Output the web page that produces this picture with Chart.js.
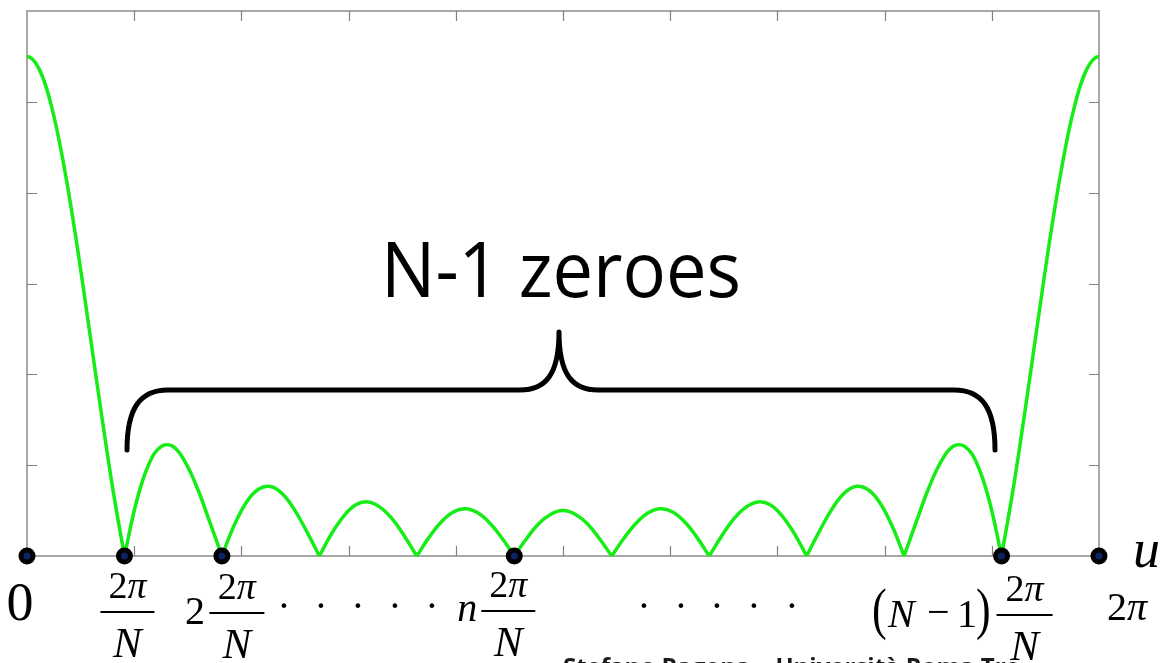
<!DOCTYPE html>
<html>
<head>
<meta charset="utf-8">
<script src="https://cdn.jsdelivr.net/npm/chart.js@4.4.1/dist/chart.umd.min.js"></script>
<style>
html,body{margin:0;padding:0;background:#fff;overflow:hidden}
#wrap{width:1176px;height:663px;position:relative}
</style>
</head>
<body>
<div id="wrap"><canvas id="c" width="1176" height="663"></canvas></div>
<script>
// ---- data ----
// |array factor| sampled evenly over u in [0, 2π] (89 samples, 8 per zero spacing)
const amplitude = [
  11, 10.72, 9.91, 8.64, 7.03, 5.20, 3.33, 1.55, 0,
  1.21, 2.02, 2.41, 2.41, 2.06, 1.48, 0.75, 0,
  0.67, 1.18, 1.47, 1.53, 1.36, 1.00, 0.52, 0,
  0.49, 0.88, 1.13, 1.19, 1.07, 0.81, 0.43, 0,
  0.41, 0.75, 0.97, 1.04, 0.95, 0.72, 0.39, 0,
  0.38, 0.71, 0.92, 1.00, 0.92, 0.71, 0.38, 0,
  0.39, 0.72, 0.95, 1.04, 0.97, 0.75, 0.41, 0,
  0.43, 0.81, 1.07, 1.19, 1.13, 0.88, 0.49, 0,
  0.52, 1.00, 1.36, 1.53, 1.47, 1.18, 0.67, 0,
  0.75, 1.48, 2.06, 2.41, 2.41, 2.02, 1.21, 0,
  1.55, 3.33, 5.20, 7.03, 8.64, 9.91, 10.72, 11
];
const uMaxOverPi = 2;                       // u axis runs 0 .. 2π (in units of π)
const markerU = [0, 0.1818, 0.3636, 0.9091, 1.8182, 2];   // marked points (units of π)
const xTicks = [0.2, 0.4, 0.6, 0.8, 1.0, 1.2, 1.4, 1.6, 1.8];
const yTicks = [2, 4, 6, 8, 10];
const yMax = 12;
const braceText = 'N-1 zeroes';
const footerText = 'Stefano Ragona    Università Roma Tre';

// sample points, then split into lobes at the zeros (each lobe keeps its zero end points)
const step = uMaxOverPi / (amplitude.length - 1);
const curvePoints = amplitude.map((y, i) => ({ x: i * step, y }));
const lobes = [];
let cur = [];
curvePoints.forEach((p, i) => {
  cur.push(p);
  if (p.y === 0 && i > 0) { lobes.push(cur); cur = [p]; }
});
if (cur.length > 1) lobes.push(cur);
// the curve is periodic: continue the main lobe one sample past each edge (clipped away)
lobes[0].unshift({ x: -step, y: amplitude[amplitude.length - 2] });
lobes[lobes.length - 1].push({ x: uMaxOverPi + step, y: amplitude[1] });

const markerPoints = markerU.map(x => ({ x, y: 0 }));

const SERIF = '"Liberation Serif", "DejaVu Serif", serif';
const GREEN = '#16ec16';

const framePlugin = {
  id: 'frame',
  beforeDatasetsDraw(chart) {
    const { ctx, chartArea: a, scales } = chart;
    ctx.save();
    ctx.strokeStyle = '#a8a8a8';
    ctx.lineWidth = 2;
    ctx.strokeRect(a.left, a.top, a.right - a.left, a.bottom - a.top);
    ctx.strokeStyle = '#808080';
    ctx.lineWidth = 1.2;
    ctx.beginPath();
    xTicks.forEach(v => {
      const px = Math.round(scales.x.getPixelForValue(v)) + 0.5;
      ctx.moveTo(px, a.bottom); ctx.lineTo(px, a.bottom - 10);
      ctx.moveTo(px, a.top); ctx.lineTo(px, a.top + 10);
    });
    yTicks.forEach(v => {
      const py = Math.round(scales.y.getPixelForValue(v)) + 0.5;
      ctx.moveTo(a.left, py); ctx.lineTo(a.left + 10, py);
      ctx.moveTo(a.right, py); ctx.lineTo(a.right - 10, py);
    });
    ctx.stroke();
    ctx.restore();
  }
};

function drawFrac(ctx, cx, barY, w) {
  ctx.textAlign = 'left';
  ctx.textBaseline = 'alphabetic';
  ctx.font = '38px ' + SERIF;
  const w2 = ctx.measureText('2').width;
  ctx.font = 'italic 38px ' + SERIF;
  const wp = ctx.measureText('π').width;
  const start = cx - (w2 + wp) / 2;
  ctx.font = '38px ' + SERIF;
  ctx.fillText('2', start, barY - 14);
  ctx.font = 'italic 38px ' + SERIF;
  ctx.fillText('π', start + w2, barY - 14);
  ctx.fillRect(cx - w / 2, barY - 1, w, 2);
  ctx.font = 'italic 43px ' + SERIF;
  ctx.textAlign = 'center';
  ctx.fillText('N', cx, barY + 45);
  ctx.textAlign = 'left';
}

function drawParen(ctx, ch, x, bottomY) {
  ctx.save();
  ctx.font = '44px ' + SERIF;
  ctx.translate(x, bottomY);
  ctx.scale(1, 1.3);
  ctx.textAlign = 'left';
  ctx.textBaseline = 'alphabetic';
  ctx.fillText(ch, 0, -9);
  ctx.restore();
}

const labelPlugin = {
  id: 'labels',
  afterDraw(chart) {
    const { ctx, scales } = chart;
    const X = v => scales.x.getPixelForValue(v);
    ctx.save();
    ctx.fillStyle = '#000';

    // brace
    ctx.strokeStyle = '#000';
    ctx.lineWidth = 5;
    ctx.lineCap = 'round';
    ctx.lineJoin = 'round';
    ctx.beginPath();
    ctx.moveTo(127, 450);
    ctx.bezierCurveTo(127, 408, 140, 390, 168, 390);
    ctx.lineTo(520, 390);
    ctx.bezierCurveTo(546, 390, 559, 374, 559, 332);
    ctx.bezierCurveTo(559, 374, 572, 390, 598, 390);
    ctx.lineTo(954, 390);
    ctx.bezierCurveTo(982, 390, 995, 408, 995, 450);
    ctx.stroke();

    // brace text
    ctx.font = '76px "Open Sans", "Noto Sans", sans-serif';
    ctx.textAlign = 'left';
    ctx.textBaseline = 'alphabetic';
    ctx.fillText(braceText, 381, 297, 360);

    // axis labels
    ctx.font = '54px ' + SERIF;
    ctx.textAlign = 'center';
    ctx.fillText('0', X(markerU[0]) - 7, 620);

    drawFrac(ctx, X(markerU[1]) + 3, 612, 54);

    ctx.font = '40px ' + SERIF;
    ctx.textAlign = 'right';
    ctx.fillText('2', X(markerU[2]) - 17, 624);
    drawFrac(ctx, X(markerU[2]) + 15, 613, 55);

    ctx.font = '40px ' + SERIF;
    ctx.textAlign = 'center';
    [284, 321, 358, 395, 432].forEach(x => ctx.fillText('·', x, 619));
    [644, 681, 717, 754, 792].forEach(x => ctx.fillText('·', x, 619));

    ctx.font = 'italic 40px ' + SERIF;
    ctx.textAlign = 'right';
    ctx.fillText('n', X(markerU[3]) - 37, 621);
    drawFrac(ctx, X(markerU[3]) - 6, 611, 54);

    // (N - 1)
    ctx.textAlign = 'left';
    drawParen(ctx, '(', 872, 640);
    ctx.font = 'italic 40px ' + SERIF;
    ctx.fillText('N', 888, 627);
    ctx.font = '40px ' + SERIF;
    ctx.fillText('−', 927, 625);
    ctx.fillText('1', 957, 627);
    drawParen(ctx, ')', 976, 640);
    drawFrac(ctx, X(markerU[4]) + 23, 615, 56);

    // 2π
    ctx.textAlign = 'left';
    ctx.font = '40px ' + SERIF;
    const x2 = X(markerU[5]) + 8;
    ctx.fillText('2', x2, 620);
    const w2 = ctx.measureText('2').width;
    ctx.font = 'italic 40px ' + SERIF;
    ctx.fillText('π', x2 + w2, 620);

    // u
    ctx.font = 'italic 54px ' + SERIF;
    ctx.fillText('u', 1133, 567);

    // footer (cut off at bottom)
    ctx.font = 'bold 24px "Open Sans", "Noto Sans", sans-serif';
    ctx.fillStyle = '#1a1a1a';
    ctx.fillText(footerText, 563, 675);
    ctx.restore();
  }
};

const datasets = [{
  type: 'scatter',
  data: markerPoints,
  pointRadius: 6,
  pointHoverRadius: 6,
  pointBorderWidth: 5,
  pointBorderColor: '#000',
  pointBackgroundColor: '#0c2465',
  showLine: false,
  clip: false,
  order: 0
}];
lobes.forEach(lobe => datasets.push({
  data: lobe,
  borderColor: GREEN,
  borderWidth: 3.5,
  pointRadius: 0,
  tension: 0.4,
  fill: false,
  clip: { left: 0, right: 0, top: 5, bottom: 5 },
  order: 1
}));

new Chart(document.getElementById('c'), {
  type: 'line',
  data: { datasets },
  options: {
    responsive: false,
    animation: false,
    layout: { padding: { left: 27, top: 5, right: 77, bottom: 107 } },
    scales: {
      x: { type: 'linear', min: 0, max: uMaxOverPi, display: false },
      y: { type: 'linear', min: 0, max: yMax, display: false }
    },
    plugins: { legend: { display: false }, tooltip: { enabled: false } }
  },
  plugins: [framePlugin, labelPlugin]
});
</script>
</body>
</html>
